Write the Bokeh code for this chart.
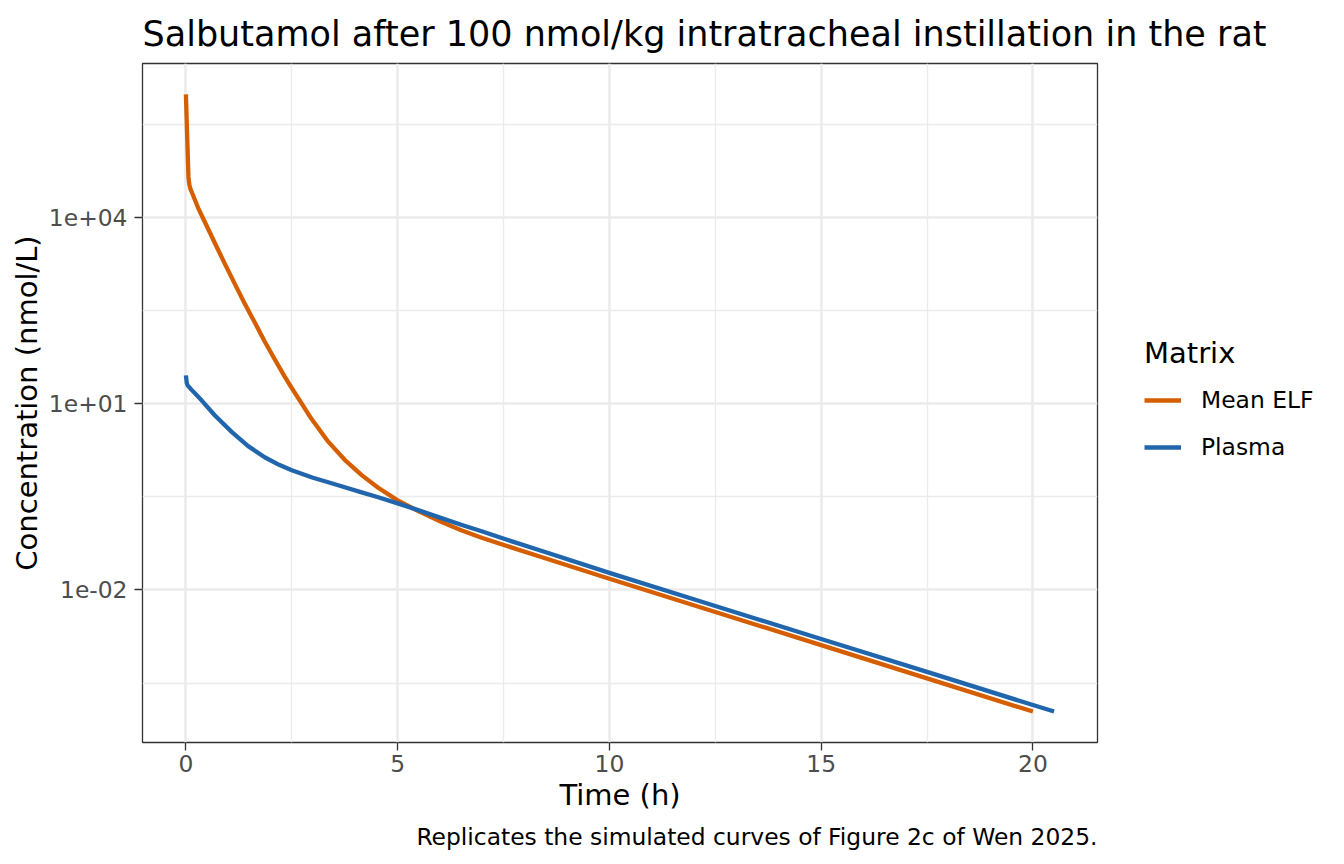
from bokeh.plotting import figure
from bokeh.models import Range1d, FixedTicker, Legend, LegendItem, Title, CustomJSTickFormatter
from bokeh.embed import file_html
from bokeh.resources import INLINE

# ---------------- data ----------------
title_text = "Salbutamol after 100 nmol/kg intratracheal instillation in the rat"
caption_text = "Replicates the simulated curves of Figure 2c of Wen 2025."
x_label = "Time (h)"
y_label = "Concentration (nmol/L)"
legend_title = "Matrix"
series_names = ["Mean ELF", "Plasma"]
series_colors = ["#D55E00", "#2166AC"]

time_elf_h = [0.0, 0.03, 0.06, 0.08, 0.10, 0.13, 0.29, 0.45, 0.68, 0.92, 1.16, 1.39,
              1.63, 1.86, 2.10, 2.33, 2.5, 2.72, 2.96, 3.36, 3.75, 4.15, 4.54, 5.0,
              5.5, 6.0, 6.5, 7.0, 7.68, 8.39, 10.0, 12.5, 15.0, 17.5, 20.0]
conc_elf = [955000, 199500, 44700, 33900, 29500, 26300, 14100, 8320, 3890, 1780,
            832, 407, 200, 100, 51.3, 27.5, 17.8, 10.35, 5.75, 2.44, 1.246, 0.705,
            0.442, 0.277, 0.184, 0.127, 0.0912, 0.0684, 0.0484, 0.0339, 0.0151,
            0.00442, 0.00129, 0.000376, 0.000110]

time_plasma_h = [0.0, 0.02, 0.04, 0.13, 0.37, 0.68, 1.08, 1.47, 1.86, 2.2, 2.5, 3.0,
                 3.4, 3.75, 4.15, 4.54, 5.0, 5.5, 6.0, 6.5, 7.0, 7.68, 8.39, 10.0,
                 12.5, 15.0, 17.5, 20.0, 20.5]
conc_plasma = [28.5, 21.4, 19.7, 16.8, 11.3, 6.49, 3.51, 2.07, 1.368, 1.033, 0.845,
               0.641, 0.533, 0.449, 0.373, 0.310, 0.248, 0.191, 0.146, 0.112, 0.0871,
               0.0610, 0.0427, 0.0188, 0.00550, 0.00162, 0.000479, 0.000140, 0.000110]

x_major_ticks = [0, 5, 10, 15, 20]
x_minor_ticks = [2.5, 7.5, 12.5, 17.5]
y_major_ticks = [1e-2, 1e1, 1e4]
y_tick_labels = ["1e-02", "1e+01", "1e+04"]
y_minor_ticks = [10 ** -3.5, 10 ** -0.5, 10 ** 2.5, 10 ** 5.5]

# ---------------- styling ----------------
FONT = "DejaVu Sans"
GRID = "#EBEBEB"
DARK = "#333333"

x_lo, x_hi = 0.0, 20.5
x_pad = (x_hi - x_lo) * 0.05
y_lo_log, y_hi_log = -3.96, 5.98
y_pad = (y_hi_log - y_lo_log) * 0.05

p = figure(frame_width=955, frame_height=679,
           min_border_left=142, min_border_right=243,
           min_border_top=63, min_border_bottom=118,
           x_range=Range1d(x_lo - x_pad, x_hi + x_pad),
           y_range=Range1d(10 ** (y_lo_log - y_pad), 10 ** (y_hi_log + y_pad)),
           y_axis_type="log", output_backend="svg",
           toolbar_location=None, tools="")

p.background_fill_color = "white"
p.border_fill_color = "white"
p.outline_line_color = DARK
p.outline_line_width = 1.3

# title
p.title.text = title_text
p.title.text_font = FONT
p.title.text_font_size = "35px"
p.title.text_font_style = "normal"
p.title.text_color = "black"
p.title.align = "left"
p.title.standoff = 19

# tickers
xt = FixedTicker(ticks=x_major_ticks, minor_ticks=x_minor_ticks)
yt = FixedTicker(ticks=y_major_ticks, minor_ticks=y_minor_ticks)
p.xaxis.ticker = xt
p.xgrid.ticker = xt
p.yaxis.ticker = yt
p.ygrid.ticker = yt
p.yaxis.formatter = CustomJSTickFormatter(
    args=dict(vals=y_major_ticks, labs=y_tick_labels),
    code="""
    for (let i = 0; i < vals.length; i++) {
        if (Math.abs(Math.log10(vals[i]) - Math.log10(tick)) < 1e-6) return labs[i];
    }
    return '';
    """)

for g in (p.xgrid, p.ygrid):
    g.grid_line_color = GRID
    g.grid_line_width = 2.6
    g.minor_grid_line_color = GRID
    g.minor_grid_line_width = 1.3

for ax in (p.xaxis, p.yaxis):
    ax.axis_line_color = None
    ax.major_tick_line_color = DARK
    ax.major_tick_line_width = 1.3
    ax.major_tick_out = 8
    ax.major_tick_in = 0
    ax.minor_tick_line_color = None
    ax.major_label_text_font = FONT
    ax.major_label_text_font_size = "23.4px"
    ax.major_label_text_color = "#4D4D4D"
    ax.axis_label_text_font = FONT
    ax.axis_label_text_font_size = "29px"
    ax.axis_label_text_font_style = "normal"
    ax.axis_label_text_color = "black"

p.xaxis.axis_label = x_label
p.yaxis.axis_label = y_label
p.xaxis.major_label_standoff = 4
p.yaxis.major_label_standoff = 7
p.xaxis.axis_label_standoff = 3
p.yaxis.axis_label_standoff = 2

# data lines
r_elf = p.line(time_elf_h, conc_elf, line_color=series_colors[0], line_width=4.3,
               line_join="round", line_cap="butt")
r_pl = p.line(time_plasma_h, conc_plasma, line_color=series_colors[1], line_width=4.3,
              line_join="round", line_cap="butt")

# legend
leg = Legend(items=[LegendItem(label=series_names[0], renderers=[r_elf]),
                    LegendItem(label=series_names[1], renderers=[r_pl])],
             title=legend_title, location="center_left", orientation="vertical")
leg.title_text_font = FONT
leg.title_text_font_size = "29px"
leg.title_text_font_style = "normal"
leg.title_text_color = "black"
leg.title_standoff = 7
leg.label_text_font = FONT
leg.label_text_font_size = "23.4px"
leg.label_text_color = "black"
leg.glyph_width = 37
leg.glyph_height = 47
leg.label_height = 47
leg.spacing = 0
leg.label_standoff = 20
leg.padding = 0
leg.margin = 47
leg.border_line_color = None
leg.background_fill_alpha = 0
p.add_layout(leg, "right")

# caption
cap = Title(text=caption_text, align="right", text_font=FONT, text_font_size="23.4px",
            text_font_style="normal", text_color="black", standoff=12)
p.add_layout(cap, "below")

open("out.html", "w").write(file_html(p, INLINE))
